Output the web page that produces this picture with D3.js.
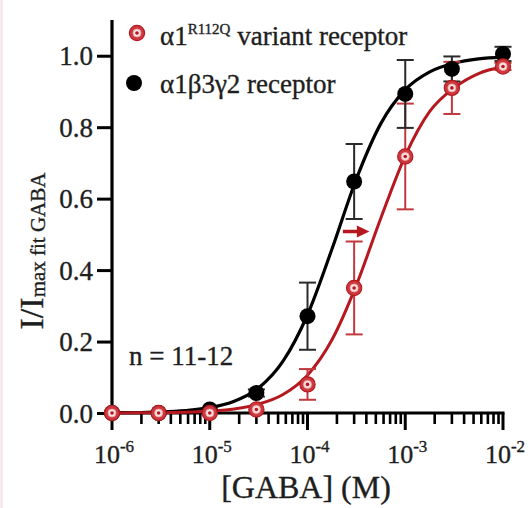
<!DOCTYPE html>
<html><head><meta charset="utf-8">
<script src="https://cdn.jsdelivr.net/npm/d3@7"></script>
<style>html,body{margin:0;padding:0;background:#fff;} svg{display:block;} text{font-family:"Liberation Serif",Times,serif;stroke:#1e1e1e;stroke-width:0.35px;}</style>
</head><body>
<svg id="c" width="531" height="508"></svg>
<script>
// ---- data ----
const concentrations = [1e-6, 3e-6, 1e-5, 3e-5, 1e-4, 3e-4, 1e-3, 3e-3, 1e-2];
const wildMean  = [0.000, 0.000, 0.010, 0.056, 0.271, 0.648, 0.893, 0.963, 1.005];
const wildErr   = [0.000, 0.000, 0.006, 0.010, 0.094, 0.105, 0.095, 0.035, 0.020];
const variantMean = [0.000, 0.000, 0.000, 0.010, 0.080, 0.350, 0.718, 0.910, 0.970];
const variantErr  = [0.000, 0.000, 0.000, 0.006, 0.043, 0.130, 0.148, 0.073, 0.010];
// fitted curves, every quarter decade
const curveConc = [1e-6,1.78e-6,3.16e-6,5.62e-6,1e-5,1.78e-5,3.16e-5,5.62e-5,1e-4,1.78e-4,3.16e-4,5.62e-4,1e-3,1.78e-3,3.16e-3,5.62e-3,1e-2];
const wildFit    = [0.001,0.001,0.003,0.007,0.015,0.033,0.070,0.145,0.275,0.459,0.655,0.810,0.905,0.955,0.979,0.991,0.996];
const variantFit = [0.000,0.001,0.001,0.002,0.005,0.011,0.025,0.052,0.106,0.205,0.358,0.545,0.720,0.844,0.910,0.950,0.969];
const yTicks = [0.0, 0.2, 0.4, 0.6, 0.8, 1.0];
const xTickExps = [-6, -5, -4, -3, -2];
const legendLabels = ["variant receptor", "α1β3γ2 receptor"];

const RED = "#b5191f", BLACK = "#000", TXT = "#1e1e1e";
const svg = d3.select("#c");
const x = d3.scaleLog().domain([1e-6, 1e-2]).range([112, 503]);
const y = d3.scaleLinear().domain([0, 1.1]).range([413, 20]);

// faint left border
svg.append("line").attr("x1",1.5).attr("x2",1.5).attr("y1",0).attr("y2",508)
  .attr("stroke","#f2e2e2").attr("stroke-width",2);

// ---- axes ----
const yAxis = d3.axisLeft(y).tickValues(yTicks).tickFormat(d3.format(".1f")).tickSize(15).tickPadding(4);
const gy = svg.append("g").attr("transform","translate(112,0)").call(yAxis);
gy.attr("font-family",null).attr("font-size",null);
gy.select(".domain").remove();
gy.append("line").attr("x1",0).attr("x2",0).attr("y1",y(1.1)).attr("y2",y(0)+1.5)
  .attr("stroke","#000").attr("stroke-width",3.2);
gy.selectAll(".tick line").attr("stroke-width",3);
gy.selectAll(".tick text").attr("font-size",27).attr("fill",TXT).attr("dy","0.34em");

// x axis with minor ticks
const minor = [];
for (let e = -6; e < -2; e++) for (let m = 2; m <= 9; m++) minor.push(m * Math.pow(10, e));
const gx = svg.append("g").attr("transform","translate(0,413)");
gx.append("line").attr("x1",x(1e-6)-1.5).attr("x2",x(1e-2)+1.5).attr("y1",0).attr("y2",0)
  .attr("stroke","#000").attr("stroke-width",3.2);
gx.selectAll("line.mn").data(minor).join("line").attr("class","mn")
  .attr("x1",d=>x(d)).attr("x2",d=>x(d)).attr("y1",0).attr("y2",11)
  .attr("stroke","#000").attr("stroke-width",2.6);
gx.selectAll("line.mj").data(xTickExps).join("line").attr("class","mj")
  .attr("x1",d=>x(Math.pow(10,d))).attr("x2",d=>x(Math.pow(10,d))).attr("y1",0).attr("y2",17)
  .attr("stroke","#000").attr("stroke-width",3);
const xl = gx.selectAll("text.xl").data(xTickExps).join("text").attr("class","xl")
  .attr("x",d=>x(Math.pow(10,d))+2).attr("y",50).attr("text-anchor","middle")
  .attr("font-size",26).attr("fill",TXT);
xl.append("tspan").text("10");
xl.append("tspan").attr("dy",-11).attr("font-size",17).text(d=>String(d));

svg.append("text").attr("x",306).attr("y",498).attr("text-anchor","middle")
  .attr("font-size",32).attr("fill",TXT).text("[GABA] (M)");

const yl = svg.append("text").attr("transform","translate(43,251) rotate(-90)").attr("text-anchor","middle")
  .attr("fill",TXT);
yl.append("tspan").attr("font-size",34).text("I/I");
yl.append("tspan").attr("font-size",21).attr("dy",2).text("max fit GABA");

svg.append("text").attr("x",129).attr("y",365).attr("font-size",27)
  .attr("fill",TXT).text("n = 11-12");

// ---- curves ----
const line = d3.line().x(d=>x(d[0])).y(d=>y(d[1])).curve(d3.curveMonotoneX);
svg.append("path").attr("d", line(curveConc.map((c,i)=>[c, wildFit[i]])))
  .attr("fill","none").attr("stroke",BLACK).attr("stroke-width",3.2);
svg.append("path").attr("d", line(curveConc.map((c,i)=>[c, variantFit[i]])))
  .attr("fill","none").attr("stroke",RED).attr("stroke-width",3);

// ---- error bars ----
function errBars(means, errs, color, w) {
  const g = svg.append("g").attr("stroke",color).attr("stroke-width",w);
  concentrations.forEach((c,i)=>{
    if (errs[i] <= 0.008) return;
    const cx = x(c), y1 = y(means[i]+errs[i]), y2 = y(means[i]-errs[i]);
    g.append("line").attr("x1",cx).attr("x2",cx).attr("y1",y1).attr("y2",y2);
    g.append("line").attr("x1",cx-8.5).attr("x2",cx+8.5).attr("y1",y1).attr("y2",y1);
    g.append("line").attr("x1",cx-8.5).attr("x2",cx+8.5).attr("y1",y2).attr("y2",y2);
  });
}
errBars(variantMean, variantErr, "#c0393e", 2);
errBars(wildMean, wildErr, "#2a2a2a", 2);

// ---- markers ----
function redMarker(g, cx, cy) {
  g.append("circle").attr("cx",cx).attr("cy",cy).attr("r",7.6).attr("fill","#cc3a40").attr("stroke",RED).attr("stroke-width",1.2);
  g.append("circle").attr("cx",cx).attr("cy",cy).attr("r",4).attr("fill","#fbe3e4").attr("stroke","#e9a5a8").attr("stroke-width",0.8);
  g.append("circle").attr("cx",cx).attr("cy",cy).attr("r",1.8).attr("fill",RED);
}
const gm = svg.append("g");
concentrations.forEach((c,i)=>{
  gm.append("circle").attr("cx",x(c)).attr("cy",y(wildMean[i])).attr("r",8).attr("fill",BLACK);
});
concentrations.forEach((c,i)=> redMarker(gm, x(c), y(variantMean[i])));

// shift arrow
const ay = y(0.508);
svg.append("path").attr("d",`M${x(2.3e-4)},${ay} L${x(3.5e-4)},${ay}`).attr("stroke",RED).attr("stroke-width",3.5);
svg.append("path").attr("d",`M${x(3.2e-4)},${ay-6} L${x(4.3e-4)},${ay} L${x(3.2e-4)},${ay+6} Z`).attr("fill",RED);

// ---- legend ----
redMarker(svg, 137, 33);
svg.append("circle").attr("cx",134).attr("cy",83).attr("r",8).attr("fill",BLACK);
const l1 = svg.append("text").attr("x",160).attr("y",45).attr("font-size",27).attr("fill",TXT);
l1.append("tspan").text("α1");
l1.append("tspan").attr("dy",-11).attr("font-size",15).text("R112Q");
l1.append("tspan").attr("dy",11).text(" " + legendLabels[0]);
svg.append("text").attr("x",160).attr("y",93).attr("font-size",27).attr("fill",TXT).text(legendLabels[1]);
</script>
</body></html>
